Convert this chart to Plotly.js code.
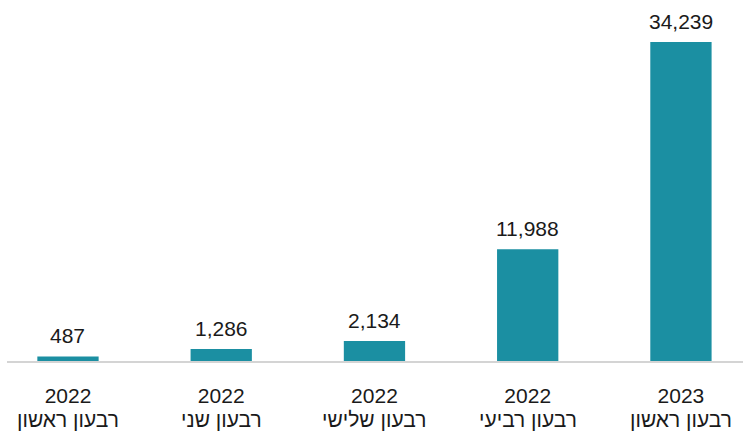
<!DOCTYPE html>
<html>
<head>
<meta charset="utf-8">
<script src="https://cdn.plot.ly/plotly-3.0.1.min.js"></script>
<style>body{margin:0;}#chart{width:743px;height:433px;}</style>
</head>
<body>
<div id="chart"></div>
<script>
var CHART = document.getElementById('chart');

var years = ['2022', '2022', '2022', '2022', '2023'];
var quarterNames = ['רבעון ראשון', 'רבעון שני', 'רבעון שלישי', 'רבעון רביעי', 'רבעון ראשון'];
var values = [487, 1286, 2134, 11988, 34239];
var positions = [0, 1, 2, 3, 4];

var data = [{
    x: positions,
    y: values,
    type: 'bar',
    width: 0.4,
    marker: {color: '#1b8fa2'},
    hoverinfo: 'none'
}];

// value labels above the bars and the quarter names below the years
var notes = [];
for (let i = 0; i < values.length; i++) {
    notes.push({
        x: positions[i], y: values[i], xref: 'x', yref: 'y',
        text: values[i].toLocaleString('en-US'),
        showarrow: false, yanchor: 'middle', yshift: 21,
        font: {size: 21, color: '#1a1a1a'}
    });
    notes.push({
        x: positions[i], y: 0, xref: 'x', yref: 'paper',
        text: quarterNames[i],
        showarrow: false, yanchor: 'middle', yshift: -58,
        font: {size: 21, color: '#1a1a1a'}
    });
}

var layout = {
    width: 743,
    height: 433,
    margin: {l: 7, r: 0, t: 0, b: 72},
    font: {family: '"Liberation Sans", sans-serif', size: 21, color: '#1a1a1a'},
    paper_bgcolor: '#ffffff',
    plot_bgcolor: '#ffffff',
    showlegend: false,
    xaxis: {
        range: [-0.398, 4.405],
        tickvals: positions,
        ticktext: years,
        showline: true,
        linecolor: '#d4d4d4',
        linewidth: 1.5,
        ticks: '',
        ticklabelstandoff: 15,
        showgrid: false,
        zeroline: false,
        tickfont: {size: 21}
    },
    yaxis: {
        range: [0, 38747],
        visible: false,
        showgrid: false,
        zeroline: false
    },
    annotations: notes
};

Plotly.newPlot(CHART, data, layout, {displayModeBar: false});
</script>
</body>
</html>
